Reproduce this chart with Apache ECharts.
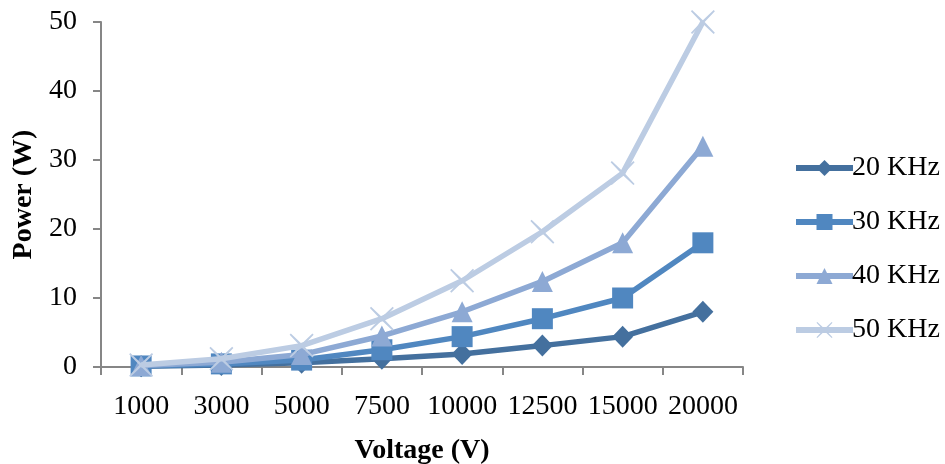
<!DOCTYPE html>
<html>
<head>
<meta charset="utf-8">
<script src="https://cdn.jsdelivr.net/npm/echarts@6/dist/echarts.min.js"></script>
<style>html,body{margin:0;padding:0;background:#fff}#c{width:945px;height:464px}</style>
</head>
<body>
<div id="c"></div>
<script>
var categories = ['1000','3000','5000','7500','10000','12500','15000','20000'];
var s20 = [0.1, 0.3, 0.6, 1.2, 1.9, 3.1, 4.4, 8];
var s30 = [0.15, 0.45, 1.0, 2.5, 4.4, 7, 10, 18];
var s40 = [0.2, 0.7, 1.8, 4.5, 8, 12.4, 18, 32];
var s50 = [0.3, 1.2, 3.1, 7, 12.5, 19.6, 28.1, 50];
var seriesNames = ['20 KHz','30 KHz','40 KHz','50 KHz'];

var colors = ['#44709E', '#5087C0', '#8DA9D4', '#BCCCE3'];
var crossPath = 'path://M1,0 L10,8.5 L19,0 L20,1 L11.5,10 L20,19 L19,20 L10,11.5 L1,20 L0,19 L8.5,10 L0,1 Z';
var symbols = ['diamond', 'rect', 'triangle', crossPath];
var sizes = [[21,22], 21, 21, 24];
var data = [s20, s30, s40, s50];

var chart = echarts.init(document.getElementById('c'));
var font = '"Liberation Serif", "Times New Roman", serif';
chart.setOption({
  animation: false,
  textStyle: {fontFamily: font},
  grid: {left: 101, right: 202, top: 22, bottom: 97, containLabel: false, outerBoundsMode: 'none'},
  legend: {
    orient: 'vertical',
    left: 788, top: 149,
    itemWidth: 57, itemHeight: 20, itemGap: 26,
    lineStyle: {width: 6},
    textStyle: {fontFamily: font, fontSize: 28, color: '#000', padding: [0,0,0,-6]},
    data: seriesNames
  },
  xAxis: {
    type: 'category',
    data: categories,
    boundaryGap: true,
    name: 'Voltage (V)',
    nameLocation: 'middle',
    nameGap: 70,
    nameTextStyle: {fontFamily: font, fontSize: 28, fontWeight: 'bold', color: '#000'},
    axisLine: {lineStyle: {color: '#868686', width: 2}},
    axisTick: {show: true, length: 8, lineStyle: {color: '#868686', width: 2}, alignWithLabel: false},
    axisLabel: {fontFamily: font, fontSize: 28, color: '#000', margin: 26, interval: 0}
  },
  yAxis: {
    type: 'value',
    min: 0, max: 50, interval: 10,
    name: 'Power (W)',
    nameLocation: 'middle',
    nameGap: 62,
    nameTextStyle: {fontFamily: font, fontSize: 28, fontWeight: 'bold', color: '#000'},
    axisLine: {show: true, lineStyle: {color: '#868686', width: 2}},
    axisTick: {show: true, length: 8, lineStyle: {color: '#868686', width: 2}},
    axisLabel: {fontFamily: font, fontSize: 28, color: '#000', margin: 24},
    splitLine: {show: false}
  },
  series: data.map(function(d, i){
    return {
      name: seriesNames[i],
      type: 'line',
      data: d,
      symbol: symbols[i],
      symbolSize: sizes[i],
      showAllSymbol: true,
      z: 2 + i,
      lineStyle: {color: colors[i], width: 5.5},
      itemStyle: {color: colors[i], borderColor: colors[i], borderWidth: 0, opacity: 1},
      emphasis: {disabled: true}
    };
  })
});
</script>
</body>
</html>
